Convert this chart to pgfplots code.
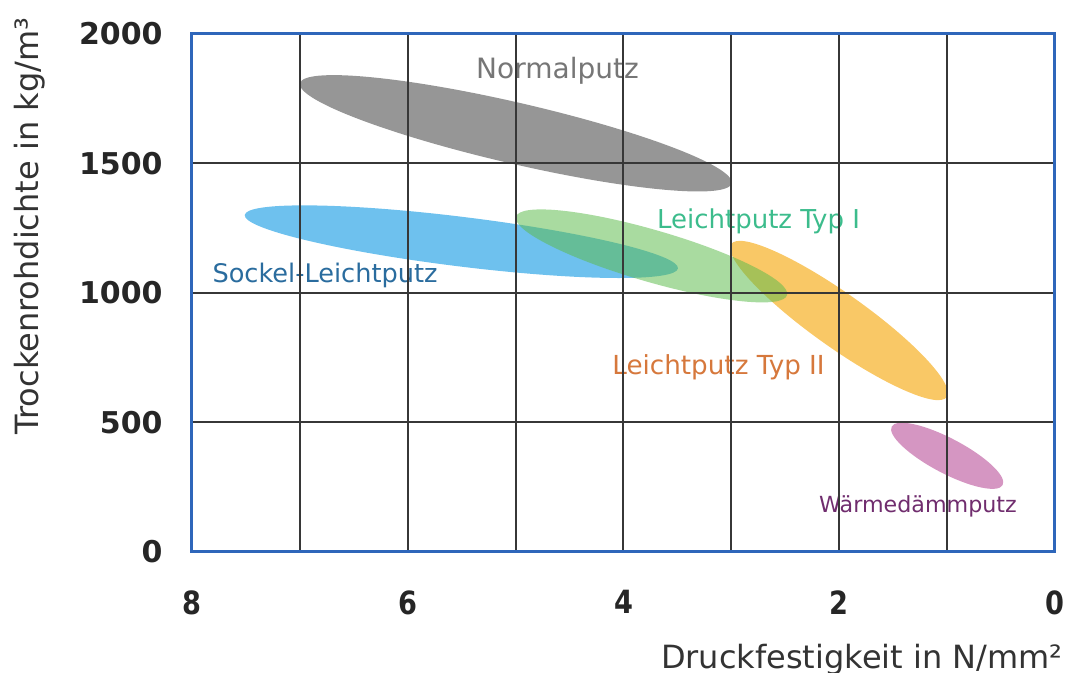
\documentclass[border=0pt]{standalone}
\usepackage{fontspec}
\setmainfont{DejaVu Sans}
\newfontfamily\xtf[FakeStretch=0.85]{DejaVu Sans}
\usepackage{pgfplots}
\pgfplotsset{compat=1.18}
\definecolor{framec}{RGB}{46,102,186}
\definecolor{gridc}{RGB}{55,55,55}
\definecolor{fgray}{RGB}{150,150,150}
\definecolor{fblue}{RGB}{110,193,238}
\definecolor{fgreen}{RGB}{93,187,76}
\definecolor{forange}{RGB}{249,200,102}
\definecolor{fpurple}{RGB}{213,150,194}
\definecolor{tgray}{RGB}{118,118,118}
\definecolor{tgreen}{RGB}{60,188,140}
\definecolor{tblue}{RGB}{42,108,158}
\definecolor{torange}{RGB}{214,120,60}
\definecolor{tpurple}{RGB}{112,45,110}
\begin{document}
\begin{tikzpicture}
\begin{axis}[
  scale only axis, width=431.5pt, height=259pt,
  x dir=reverse, xmin=0, xmax=8, ymin=0, ymax=2000,
  xtick={0,1,2,3,4,5,6,7,8}, xticklabels={0,,2,,4,,6,,8},
  ytick={0,500,1000,1500,2000}, yticklabels={0,500,1000,1500,2000},
  major tick length=0pt,
  grid=major, grid style={line width=1pt, color=gridc},
  axis line style={line width=1.5pt, color=framec},
  axis on top,
  xticklabel style={font=\xtf\bfseries\fontsize{16}{19}\selectfont, inner sep=0pt, yshift=-19pt, text=black!85},
  yticklabel style={font=\bfseries\fontsize{15}{18}\selectfont, inner sep=0pt, xshift=-14.5pt, text=black!85},
  xlabel={Druckfestigkeit in N/mm²},
  xlabel style={at={(axis description cs:1,0)}, anchor=base east, inner sep=0pt, xshift=4pt, yshift=-58pt, font=\fontsize{16}{19}\selectfont, text=black!80},
  ylabel={Trockenrohdichte in kg/m³},
  ylabel style={at={(axis description cs:0,0.629)}, anchor=center, inner sep=0pt, yshift=81pt, font=\fontsize{16}{19}\selectfont, text=black!80},
  every axis plot/.append style={smooth, tension=0.68, draw=none},
]
% Normalputz
\addplot[fill=fgray] coordinates {
 (3.628,1399.0) (5.062,1501.9) (6.458,1672.0) (6.999,1809.7) (6.368,1834.2) (4.934,1731.3) (3.538,1561.2) (2.998,1423.5) (3.628,1399.0) (5.062,1501.9) (6.458,1672.0)};
% Sockel-Leichtputz
\addplot[fill=fblue] coordinates {
 (4.103,1058.0) (5.531,1103.1) (6.943,1203.8) (7.511,1301.2) (6.903,1338.2) (5.475,1293.1) (4.063,1192.4) (3.495,1095.0) (4.103,1058.0) (5.531,1103.1) (6.943,1203.8)};
% Leichtputz Typ II
\addplot[fill=forange] coordinates {
 (1.398,624.8) (2.147,808.8) (2.811,1042.6) (3.001,1189.2) (2.606,1162.8) (1.857,978.8) (1.193,745.0) (1.003,598.4) (1.398,624.8) (2.147,808.8) (2.811,1042.6)};
% Leichtputz Typ I
\addplot[fill=fgreen, fill opacity=0.53] coordinates {
 (2.899,968.0) (3.807,1046.8) (4.675,1182.1) (4.996,1294.6) (4.581,1318.4) (3.673,1239.6) (2.805,1104.3) (2.484,991.8) (2.899,968.0) (3.807,1046.8) (4.675,1182.1)};
% Waermedaemmputz
\addplot[fill=fpurple] coordinates {
 (0.689,249.4) (1.075,311.6) (1.416,408.8) (1.514,484.1) (1.309,493.4) (0.924,431.2) (0.582,334.0) (0.485,258.7) (0.689,249.4) (1.075,311.6) (1.416,408.8)};
\node[text=tgray, font=\fontsize{14}{17}\selectfont] at (axis cs:4.612,1857) {Normalputz};
\node[text=tgreen, font=\fontsize{13}{16}\selectfont] at (axis cs:2.748,1278) {Leichtputz Typ I};
\node[text=tblue, font=\fontsize{12.8}{15}\selectfont] at (axis cs:6.767,1069) {Sockel-Leichtputz};
\node[text=torange, font=\fontsize{13.1}{16}\selectfont] at (axis cs:3.119,714) {Leichtputz Typ II};
\node[text=tpurple, font=\fontsize{11.1}{14}\selectfont] at (axis cs:1.270,178) {Wärmedämmputz};
\end{axis}
\pgfresetboundingbox
\path[use as bounding box] (-96pt,-60.5pt) rectangle (438.5pt,276pt);
\end{tikzpicture}
\end{document}
